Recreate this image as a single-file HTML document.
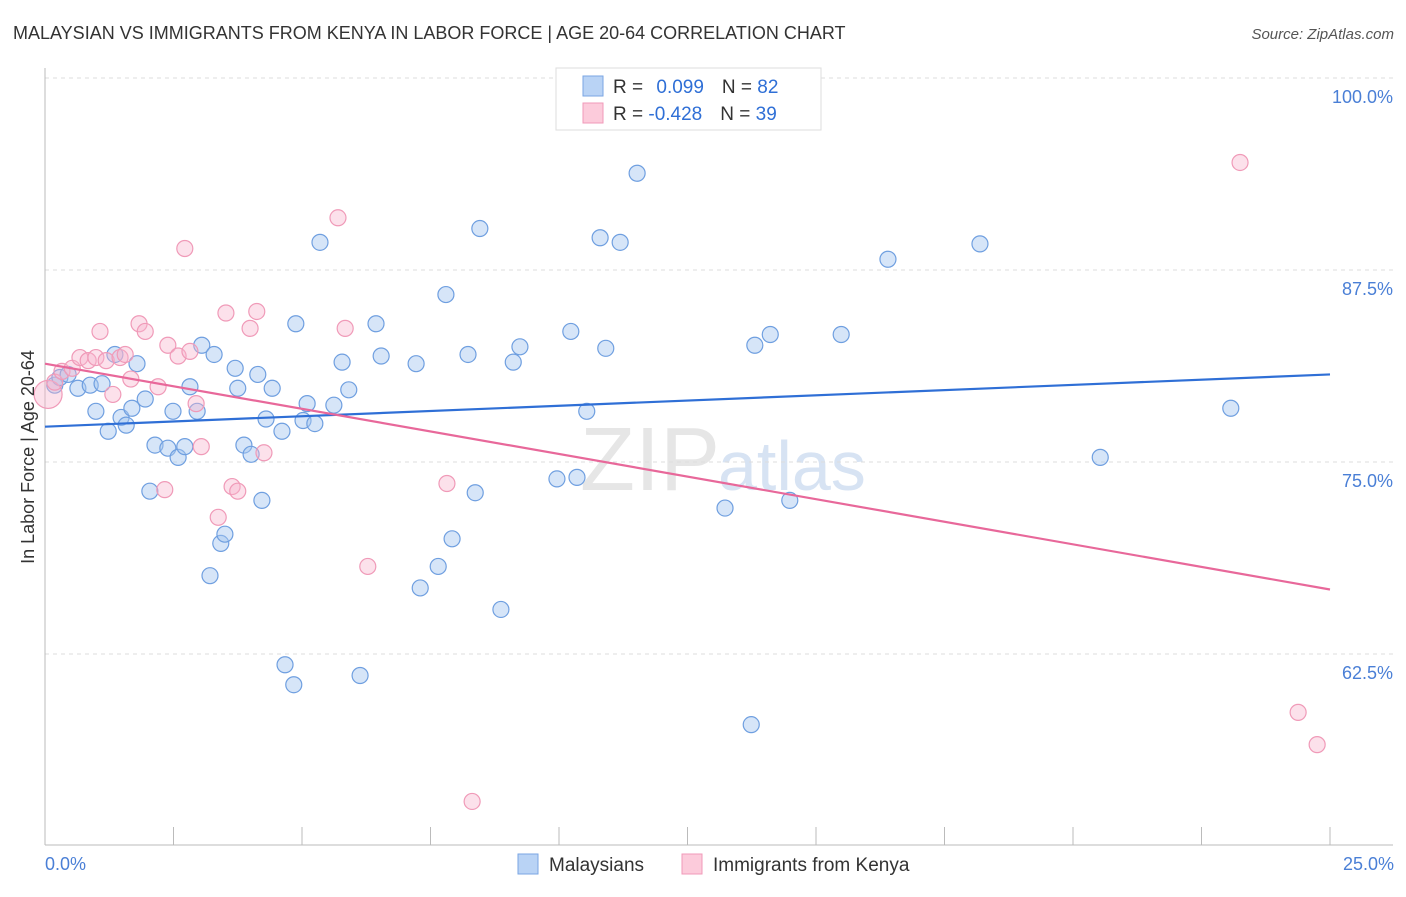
<!DOCTYPE html>
<html><head><meta charset="utf-8"><style>
body{margin:0;background:#fff;font-family:"Liberation Sans",sans-serif}
svg text{font-family:"Liberation Sans",sans-serif}
</style></head><body>
<svg width="1406" height="892" viewBox="0 0 1406 892">
<text x="13" y="39" font-size="18" fill="#333">MALAYSIAN VS IMMIGRANTS FROM KENYA IN LABOR FORCE | AGE 20-64 CORRELATION CHART</text>
<text x="1394" y="39" font-size="15" fill="#555" font-style="italic" text-anchor="end">Source: ZipAtlas.com</text>
<text x="720" y="490" font-size="90" fill="#e6e6e6" text-anchor="end" font-family="Liberation Serif">ZIP</text>
<text x="718" y="490" font-size="70" fill="#d7e3f3">atlas</text>
<g id="grid"></g>
<g id="axes"></g>
<g id="marks"></g>
<text transform="translate(34,457) rotate(-90)" font-size="18" fill="#333" text-anchor="middle">In Labor Force | Age 20-64</text>
<text x="45" y="870" font-size="18" fill="#4a7fd6">0.0%</text>
<text x="1394" y="870" font-size="18" fill="#4a7fd6" text-anchor="end">25.0%</text>
<g>
<rect x="556" y="68" width="265" height="62" fill="#fff" stroke="#ddd"/>
<rect x="583" y="76" width="20" height="20" fill="#b9d3f5" stroke="#7aa6e3"/>
<rect x="583" y="103" width="20" height="20" fill="#fccbdb" stroke="#f09ab8"/>
<text x="613" y="93" font-size="19" fill="#333">R = <tspan fill="#2f6fd6" dx="8">0.099</tspan><tspan dx="18" fill="#333">N = </tspan><tspan fill="#2f6fd6">82</tspan></text>
<text x="613" y="120" font-size="19" fill="#333">R = <tspan fill="#2f6fd6">-0.428</tspan><tspan dx="18" fill="#333">N = </tspan><tspan fill="#2f6fd6">39</tspan></text>
</g>
<g>
<rect x="518" y="854" width="20" height="20" fill="#b9d3f5" stroke="#7aa6e3"/>
<text x="549" y="871" font-size="19" fill="#333">Malaysians</text>
<rect x="682" y="854" width="20" height="20" fill="#fccbdb" stroke="#f09ab8"/>
<text x="713" y="871" font-size="19" fill="#333">Immigrants from Kenya</text>
</g>
</svg>
<script>
const yTicks=[100,87.5,75,62.5];
const yTickLabels=["100.0%","87.5%","75.0%","62.5%"];
const xTicks=[0,2.5,5,7.5,10,12.5,15,17.5,20,22.5,25];
const blueX=[0.19,0.29,0.45,0.64,0.88,0.99,1.11,1.23,1.36,1.48,1.58,1.69,1.79,1.95,2.04,2.14,2.39,2.49,2.59,2.72,2.82,2.96,3.05,3.21,3.29,3.42,3.50,3.70,3.75,3.87,4.01,4.14,4.22,4.30,4.42,4.61,4.67,4.84,4.88,5.02,5.10,5.25,5.35,5.62,5.78,5.91,6.13,6.44,6.54,7.22,7.30,7.65,7.80,7.92,8.23,8.37,8.46,8.87,9.11,9.24,9.96,10.23,10.35,10.54,10.80,10.91,11.19,11.52,13.23,13.74,13.81,14.11,14.49,15.49,16.40,18.19,20.53,23.07];
const blueY=[80.0,80.5,80.7,79.8,80.0,78.3,80.1,77.0,82.0,77.9,77.4,78.5,81.4,79.1,73.1,76.1,75.9,78.3,75.3,76.0,79.9,78.3,82.6,67.6,82.0,69.7,70.3,81.1,79.8,76.1,75.5,80.7,72.5,77.8,79.8,77.0,61.8,60.5,84.0,77.7,78.8,77.5,89.3,78.7,81.5,79.7,61.1,84.0,81.9,81.4,66.8,68.2,85.9,70.0,82.0,73.0,90.2,65.4,81.5,82.5,73.9,83.5,74.0,78.3,89.6,82.4,89.3,93.8,72.0,57.9,82.6,83.3,72.5,83.3,88.2,89.2,75.3,78.5];
const pinkX=[0.06,0.19,0.33,0.53,0.68,0.84,0.99,1.07,1.19,1.32,1.46,1.56,1.67,1.83,1.95,2.20,2.33,2.39,2.59,2.72,2.82,2.94,3.04,3.37,3.52,3.64,3.75,3.99,4.12,4.26,5.70,5.84,6.28,7.82,8.31,23.25,24.38,24.75];
const pinkY=[79.4,80.2,80.9,81.1,81.8,81.6,81.8,83.5,81.6,79.4,81.8,82.0,80.4,84.0,83.5,79.9,73.2,82.6,81.9,88.9,82.2,78.8,76.0,71.4,84.7,73.4,73.1,83.7,84.8,75.6,90.9,83.7,68.2,73.6,52.9,94.5,58.7,56.6];
const blueTrend=[77.3,80.7];
const pinkTrend=[81.4,66.7];
const NS="http://www.w3.org/2000/svg";
const X=v=>45+v/25*1285;
const Y=v=>78+(100-v)/12.5*192;
function mk(tag,attrs,parent){const e=document.createElementNS(NS,tag);for(const k in attrs)e.setAttribute(k,attrs[k]);document.getElementById(parent).appendChild(e);return e;}
yTicks.forEach((t,i)=>{
 const l=mk('line',{x1:45,x2:1393,y1:Y(t),y2:Y(t),stroke:'#ddd','stroke-dasharray':'4,4'},'grid');
 
 
 const tx=mk('text',{x:1393,y:Y(t)+25,'font-size':18,fill:'#4a7fd6','text-anchor':'end'},'grid');
 tx.textContent=yTickLabels[i];
 
 
});
const ax=mk('line',{x1:45,x2:1393,y1:845,y2:845,stroke:'#bbb'},'axes');


const ay=mk('line',{x1:45,x2:45,y1:68,y2:845,stroke:'#bbb'},'axes');


xTicks.forEach(t=>{
 const l=mk('line',{x1:X(t),x2:X(t),y1:827,y2:845,stroke:'#bbb'},'axes');
 
 
});
blueX.forEach((x,i)=>{
 const c=mk('circle',{cx:X(x),cy:Y(blueY[i]),r:8,fill:'rgba(165,198,240,0.45)',stroke:'#6f9fe0','stroke-width':1.2},'marks');
 
 
});
pinkX.forEach((x,i)=>{
 const c=mk('circle',{cx:X(x),cy:Y(pinkY[i]),r:i===0?14:8,fill:'rgba(248,180,205,0.4)',stroke:'#f09ab8','stroke-width':1.2},'marks');
 
 
});
const bl=mk('line',{x1:X(0),y1:Y(blueTrend[0]),x2:X(25),y2:Y(blueTrend[1]),stroke:'#2f6fd6','stroke-width':2.2},'marks');


const pl=mk('line',{x1:X(0),y1:Y(pinkTrend[0]),x2:X(25),y2:Y(pinkTrend[1]),stroke:'#e8689a','stroke-width':2.2},'marks');


</script>
</body></html>
